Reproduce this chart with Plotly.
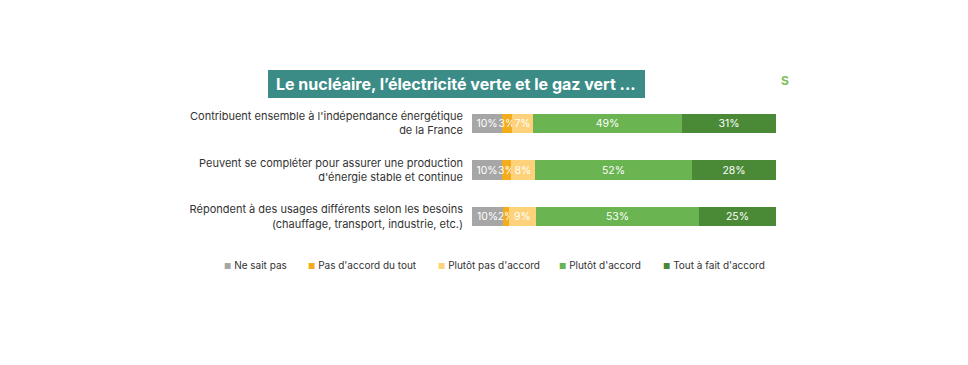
import plotly.graph_objects as go

categories = [
    "Contribuent ensemble à l'indépendance énergétique<br>de la France",
    "Peuvent se compléter pour assurer une production<br>d'énergie stable et continue",
    "Répondent à des usages différents selon les besoins<br>(chauffage, transport, industrie, etc.)",
]
series_names = ["Ne sait pas", "Pas d'accord du tout", "Plutôt pas d'accord", "Plutôt d'accord", "Tout à fait d'accord"]
ne_sait_pas = [10, 10, 10]
pas_du_tout = [3, 3, 2]
plutot_pas = [7, 8, 9]
plutot_accord = [49, 52, 53]
tout_a_fait = [31, 28, 25]
series_values = [ne_sait_pas, pas_du_tout, plutot_pas, plutot_accord, tout_a_fait]
colors = ["#a6a6a6", "#f2ac1c", "#fdd27a", "#6ab552", "#4a8a36"]
title_text = "Le nucléaire, l’électricité verte et le gaz vert ..."

W, H = 968, 365
OFF = 8  # page body margin
L, R, T, B = 472 - OFF, 968 - 776 + OFF, 100 - OFF, 365 - 240 + OFF
pw, ph = W - L - R, H - T - B

def px(x):
    return (x - OFF - L) / pw

def py(y):
    return (H - B - (y - OFF)) / ph

fig = go.Figure()
ypos = list(range(len(categories)))
for name, vals, col in zip(series_names, series_values, colors):
    fig.add_trace(go.Bar(
        name=name, y=ypos, x=vals, orientation="h", marker=dict(color=col, line=dict(width=0)),
        width=0.41, text=[f"{v}%" for v in vals], textposition="inside", textangle=0,
        insidetextanchor="middle", textfont=dict(color="white", size=10.5, family="Inter"),
        showlegend=False, hoverinfo="text+name",
    ))

fig.update_layout(
    width=W, height=H, barmode="stack", barnorm="percent", bargap=0,
    margin=dict(l=L, r=R, t=T, b=B, autoexpand=False),
    paper_bgcolor="white", plot_bgcolor="white",
    uniformtext=dict(minsize=10.5, mode="show"),
    font=dict(family="Inter", color="#333333"),
    xaxis=dict(range=[0, 100], visible=False, fixedrange=True),
    yaxis=dict(range=[2.5, -0.5], tickvals=ypos, ticktext=categories, showgrid=False,
               zeroline=False, showline=False, ticks="", ticklabelstandoff=8,
               tickfont=dict(size=11, color="#333333", family="Inter")),
)

# title box
fig.add_shape(type="rect", xref="paper", yref="paper", x0=px(268), x1=px(645), y0=py(98), y1=py(70),
              fillcolor="#3b8c87", line=dict(width=0), layer="below")
fig.add_annotation(xref="paper", yref="paper", x=px(274), y=py(84), xanchor="left", yanchor="middle",
                   text=f"<b>{title_text}</b>", showarrow=False,
                   font=dict(size=16, color="white", family="Inter"))
fig.add_annotation(xref="paper", yref="paper", x=px(785), y=py(80), xanchor="center", yanchor="middle",
                   text="<b>S</b>", showarrow=False, font=dict(size=12, color="#7cc15b", family="Inter"))

# legend
leg_x = [222, 306, 436, 557, 661]
for name, col, lx in zip(series_names, colors, leg_x):
    fig.add_annotation(xref="paper", yref="paper", x=px(lx), y=py(265), xanchor="left", yanchor="middle",
                       text=f"<span style='color:{col};font-size:8px'>■</span> {name}", showarrow=False,
                       font=dict(size=10, color="#333333", family="Inter"))

fig.write_html("out.html")
